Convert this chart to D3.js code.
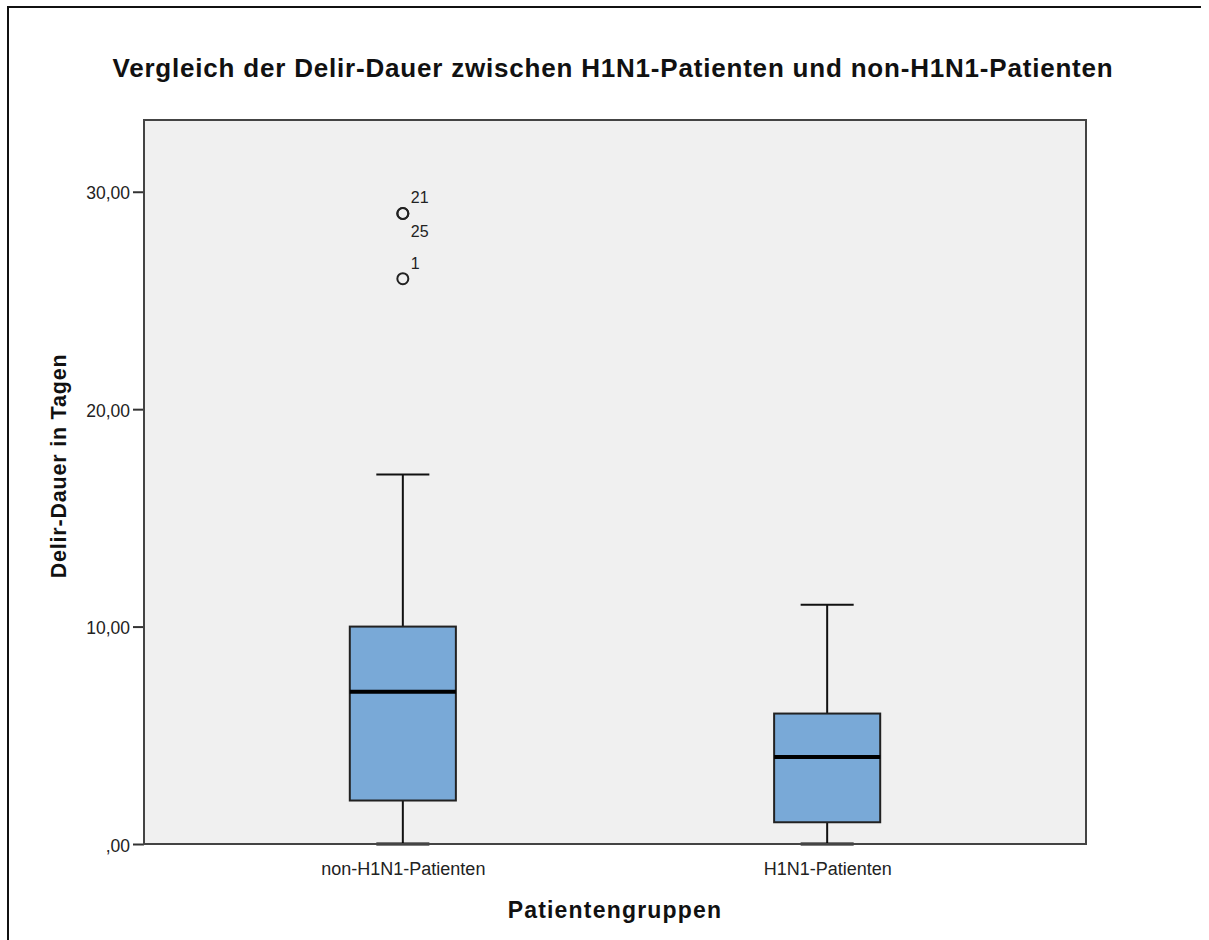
<!DOCTYPE html>
<html>
<head>
<meta charset="utf-8">
<script src="https://cdn.jsdelivr.net/npm/d3@7"></script>
<style>
  html, body { margin: 0; padding: 0; background: #fff; }
  svg { display: block; font-family: "Liberation Sans", Arial, sans-serif; }
</style>
</head>
<body>
<svg id="chart" width="1209" height="940"></svg>
<script>
// ---- data ----
const categories = ["non-H1N1-Patienten", "H1N1-Patienten"];
const whiskerLow  = [0, 0];
const q1          = [2, 1];
const medians     = [7, 4];
const q3          = [10, 6];
const whiskerHigh = [17, 11];
const outlierCategory = ["non-H1N1-Patienten", "non-H1N1-Patienten", "non-H1N1-Patienten"];
const outlierValues   = [29, 29, 26];
const outlierIds      = ["21", "25", "1"];
const yTickValues = [0, 10, 20, 30];
const yTickLabels = [",00", "10,00", "20,00", "30,00"];
const titleText = "Vergleich der Delir-Dauer zwischen H1N1-Patienten und non-H1N1-Patienten";
const xTitle = "Patientengruppen";
const yTitle = "Delir-Dauer in Tagen";

// ---- layout ----
const svg = d3.select("#chart");
const plot = { left: 144, right: 1086, top: 120, bottom: 844 };

// outer frame (top and left edges)
svg.append("path")
  .attr("d", `M8,940 L8,7 L1201,7`)
  .attr("fill", "none").attr("stroke", "#111").attr("stroke-width", 2);

const y = d3.scaleLinear().domain([0, 33.3]).range([plot.bottom, plot.top]);
const x = d3.scalePoint().domain(categories).range([plot.left, plot.right]).padding(0.61);

// plot background
svg.append("rect")
  .attr("x", plot.left).attr("y", plot.top)
  .attr("width", plot.right - plot.left).attr("height", plot.bottom - plot.top)
  .attr("fill", "#f0f0f0");

// y axis ticks + labels
const yAxis = d3.axisLeft(y).tickValues(yTickValues)
  .tickFormat((d, i) => yTickLabels[i]).tickSize(11).tickPadding(3);
const gy = svg.append("g").attr("transform", `translate(${plot.left},0)`).call(yAxis);
gy.select(".domain").remove();
gy.selectAll(".tick line").attr("stroke", "#333").attr("stroke-width", 2);
gy.selectAll(".tick text").attr("font-size", 17.5).attr("fill", "#222")
  .attr("font-family", "'Liberation Sans', Arial, sans-serif").attr("dy", "0.4em");

// x axis labels
const xAxis = d3.axisBottom(x).tickSize(0).tickPadding(18);
const gx = svg.append("g").attr("transform", `translate(0,${plot.bottom})`).call(xAxis);
gx.select(".domain").remove();
gx.selectAll(".tick text").attr("font-size", 18).attr("fill", "#222")
  .attr("font-family", "'Liberation Sans', Arial, sans-serif");

// boxes
const boxW = x.step() * 0.25;
const capW = boxW / 2;
const groups = svg.append("g").selectAll("g").data(categories).join("g");

groups.append("line") // upper whisker
  .attr("x1", d => x(d)).attr("x2", d => x(d))
  .attr("y1", (d, i) => y(q3[i])).attr("y2", (d, i) => y(whiskerHigh[i]))
  .attr("stroke", "#111").attr("stroke-width", 2);
groups.append("line") // lower whisker
  .attr("x1", d => x(d)).attr("x2", d => x(d))
  .attr("y1", (d, i) => y(q1[i])).attr("y2", (d, i) => y(whiskerLow[i]))
  .attr("stroke", "#111").attr("stroke-width", 2);
groups.append("line") // upper cap
  .attr("x1", d => x(d) - capW / 2).attr("x2", d => x(d) + capW / 2)
  .attr("y1", (d, i) => y(whiskerHigh[i])).attr("y2", (d, i) => y(whiskerHigh[i]))
  .attr("stroke", "#111").attr("stroke-width", 2);
groups.append("rect")
  .attr("x", d => x(d) - boxW / 2).attr("width", boxW)
  .attr("y", (d, i) => y(q3[i])).attr("height", (d, i) => y(q1[i]) - y(q3[i]))
  .attr("fill", "#79a9d7").attr("stroke", "#222").attr("stroke-width", 2);
groups.append("line") // median
  .attr("x1", d => x(d) - boxW / 2).attr("x2", d => x(d) + boxW / 2)
  .attr("y1", (d, i) => y(medians[i])).attr("y2", (d, i) => y(medians[i]))
  .attr("stroke", "#000").attr("stroke-width", 4);

// plot frame
svg.append("rect")
  .attr("x", plot.left).attr("y", plot.top)
  .attr("width", plot.right - plot.left).attr("height", plot.bottom - plot.top)
  .attr("fill", "none").attr("stroke", "#444").attr("stroke-width", 2);

// lower caps (drawn over the axis line)
groups.append("line")
  .attr("x1", d => x(d) - capW / 2).attr("x2", d => x(d) + capW / 2)
  .attr("y1", (d, i) => y(whiskerLow[i])).attr("y2", (d, i) => y(whiskerLow[i]))
  .attr("stroke", "#000").attr("stroke-width", 3);

// outliers
const seen = {};
const outliers = outlierValues.map((v, i) => {
  const key = outlierCategory[i] + "|" + v;
  const rank = seen[key] || 0;
  seen[key] = rank + 1;
  return { cat: outlierCategory[i], v, id: outlierIds[i], rank };
});
const og = svg.append("g");
og.selectAll("circle").data(outliers).join("circle")
  .attr("cx", d => x(d.cat)).attr("cy", d => y(d.v)).attr("r", 5.5)
  .attr("fill", "none").attr("stroke", "#222").attr("stroke-width", 2);
og.selectAll("text").data(outliers).join("text")
  .attr("x", d => x(d.cat) + 8)
  .attr("y", d => y(d.v) + (d.rank === 0 ? -10 : 24))
  .attr("font-size", 16).attr("fill", "#222")
  .text(d => d.id);

// titles
svg.append("text")
  .attr("x", 613).attr("y", 77).attr("text-anchor", "middle")
  .attr("font-size", 26).attr("font-weight", "bold").attr("fill", "#111")
  .attr("letter-spacing", 0.8)
  .text(titleText);
svg.append("text")
  .attr("x", 615).attr("y", 918).attr("text-anchor", "middle")
  .attr("font-size", 23).attr("font-weight", "bold").attr("fill", "#111")
  .attr("letter-spacing", 1.2)
  .text(xTitle);
svg.append("text")
  .attr("transform", "translate(66,466) rotate(-90)").attr("text-anchor", "middle")
  .attr("font-size", 21.5).attr("font-weight", "bold").attr("fill", "#111")
  .attr("letter-spacing", 0.8)
  .text(yTitle);
</script>
</body>
</html>
